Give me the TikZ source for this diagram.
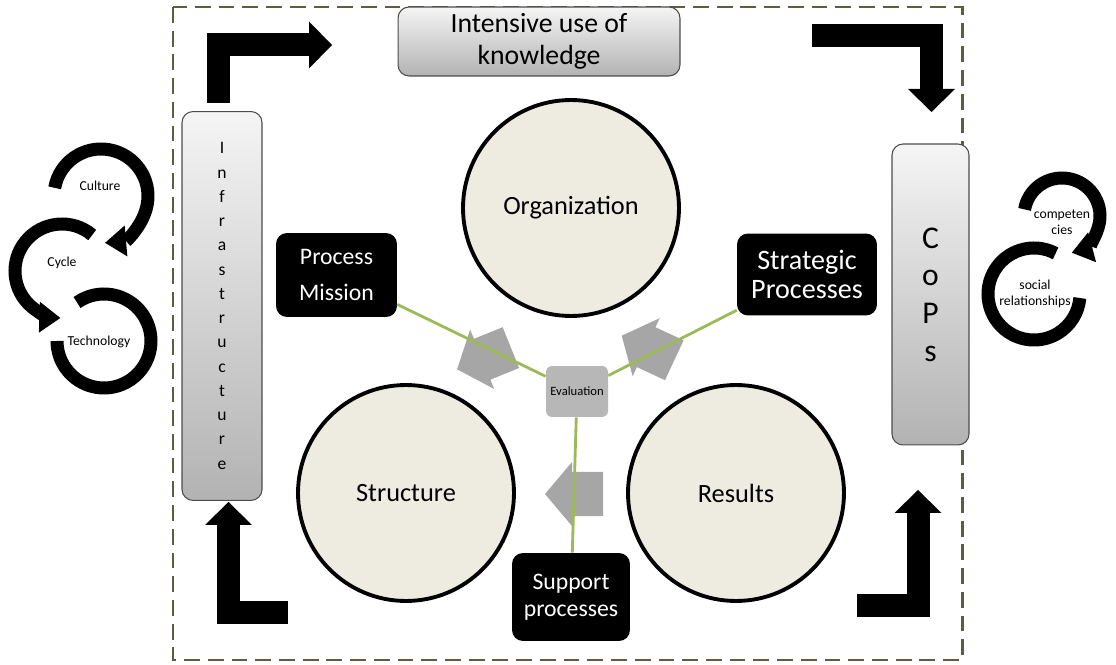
\documentclass[tikz,border=0pt]{standalone}
\usepackage{fontspec}
\setmainfont{Carlito}
\usetikzlibrary{arrows.meta,calc}
\definecolor{circfill}{HTML}{EEECE1}
\definecolor{linkgreen}{HTML}{9BBB59}
\definecolor{arrowgray}{HTML}{A6A6A6}
\definecolor{evalgray}{HTML}{B7B7B7}
\definecolor{framecol}{HTML}{5E5E3E}
\begin{document}
\begin{tikzpicture}[x=0.02cm, y=-0.02cm,
    frame/.style={draw=framecol, line width=1.7pt, dash pattern=on 9pt off 4.5pt},
    greybox/.style={draw=black!70, line width=0.6pt, rounded corners=0.22cm, top color=black!4, bottom color=black!30, inner sep=0pt, align=center},
    blackbox/.style={fill=black, rounded corners=0.22cm, text=white, align=center, inner sep=0pt},
    bigcircle/.style={circle, draw=black, line width=2.2pt, fill=circfill, minimum size=4.32cm, font=\fontsize{15}{18}\selectfont},
    link/.style={draw=linkgreen, line width=1.6pt},
    turnarrow/.style={line width=0.46cm, -{Triangle[width=0.94cm, length=0.46cm, line width=0pt]}},
    ring/.style={line width=0.26cm},
    ringhead/.style={-{Triangle[width=0.62cm, length=0.42cm, line width=0pt]}},
    ringtext/.style={font=\fontsize{7.8}{9}\selectfont, align=center, inner sep=0pt}
]
\useasboundingbox (0,0) rectangle (1116,665);
\draw[frame] (173,7) rectangle (962,660);

\coordinate (tlfrom) at (218.5,103);
\coordinate (tlto) at (332,45);
\coordinate (trfrom) at (812,35.5);
\coordinate (trto) at (931.5,112);
\coordinate (blfrom) at (288,612.5);
\coordinate (blto) at (228.5,502);
\coordinate (brfrom) at (857,605.5);
\coordinate (brto) at (918,490);
\draw[turnarrow] (tlfrom) |- (tlto);
\draw[turnarrow] (trfrom) -| (trto);
\draw[turnarrow] (blfrom) -| (blto);
\draw[turnarrow] (brfrom) -| (brto);

\node[greybox, minimum width=5.64cm, minimum height=1.38cm, font=\fontsize{15.8}{18}\selectfont] (knowledge) at (539,41.5) {Intensive use of\\knowledge};
\node[greybox, minimum width=1.6cm, minimum height=7.78cm, font=\fontsize{10}{13.8}\selectfont] (infra) at (222,306) {I\\n\\f\\r\\a\\s\\t\\r\\u\\c\\t\\u\\r\\e};
\node[greybox, minimum width=1.54cm, minimum height=6.02cm, font=\fontsize{18}{21.4}\selectfont] (cops) at (930.5,294.5) {C\\o\\P\\s};

\node[bigcircle] (organization) at (571,208) {Organization};
\node[bigcircle] (structure) at (406,493) {Structure};
\node[bigcircle] (results) at (736,493) {Results};

\foreach \cx/\cy/\ang in {484/358.5/22, 648/348/-25, 574/494/0}
  \fill[arrowgray, shift={(\cx,\cy)}, rotate=\ang] (-29,0) -- (-2,-32) -- (-2,-22) -- (29,-22) -- (29,22) -- (-2,22) -- (-2,32) -- cycle;

\node[fill=evalgray, rounded corners=0.12cm, minimum width=1.24cm, minimum height=1.02cm, inner sep=0pt, font=\fontsize{7.2}{9}\selectfont] (eval) at (577,391.5) {Evaluation};
\node[blackbox, minimum width=2.42cm, minimum height=1.68cm, font=\fontsize{13.5}{20}\selectfont] (mission) at (336.5,275) {Process\\Mission};
\node[blackbox, minimum width=2.8cm, minimum height=1.64cm, font=\fontsize{16}{17}\selectfont] (strategic) at (807,274.5) {Strategic\\Processes};
\node[blackbox, minimum width=2.36cm, minimum height=1.76cm, font=\fontsize{13.5}{15.3}\selectfont] (support) at (571,597) {Support\\processes};

\draw[link] (mission) -- (eval);
\draw[link] (eval) -- (strategic);
\draw[link] (eval) -- (support);

\coordinate (culring) at (101,196);
\coordinate (cycring) at (62,271);
\coordinate (techring) at (104,341);
\coordinate (compring) at (1062,216);
\coordinate (socring) at (1034,294);
\draw[ring, ringhead] ($(culring)+(-170:47)$) arc[start angle=-170, end angle=85, radius=47];
\draw[ring, ringhead] ($(cycring)+(-50:47)$) arc[start angle=-50, end angle=-268, radius=47];
\draw[ring] ($(techring)+(-125:47)$) arc[start angle=-125, end angle=180, radius=47];
\draw[ring, ringhead] ($(compring)+(-170:38)$) arc[start angle=-170, end angle=75, radius=38];
\draw[ring] ($(socring)+(-62:46)$) arc[start angle=-62, end angle=-355, radius=46];

\node[ringtext] (culture) at (100,186) {Culture};
\node[ringtext] (cycle) at (62,263) {Cycle};
\node[ringtext] (technology) at (99,342) {Technology};
\node[ringtext] (competencies) at (1062,222) {competen\\cies};
\node[ringtext] (social) at (1035,294) {social\\relationships};
\end{tikzpicture}
\end{document}
